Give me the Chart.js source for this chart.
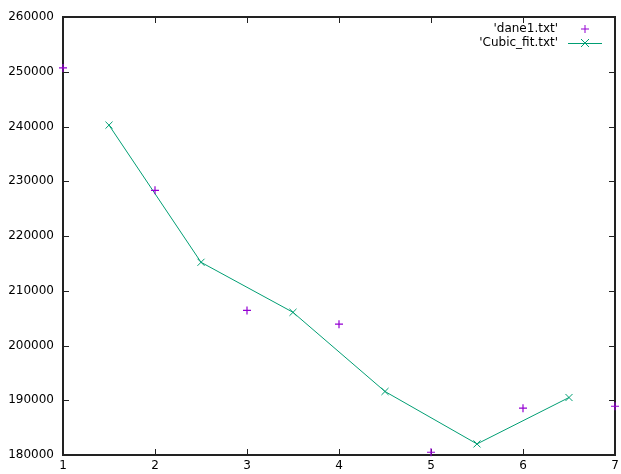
<!DOCTYPE html>
<html>
<head>
<meta charset="utf-8">
<script src="https://cdn.jsdelivr.net/npm/chart.js@4/dist/chart.umd.min.js"></script>
<style>
  body { margin: 0; background: #fff; }
  #wrap { width: 621px; height: 474px; }
</style>
</head>
<body>
<div id="wrap"><canvas id="fitChart" width="621" height="474"></canvas></div>
<script>
// data
const daneX = [1, 2, 3, 4, 5, 6, 7];
const daneY = [250700, 228350, 206400, 203900, 180500, 188550, 188900];
const fitX = [1.5, 2.5, 3.5, 4.5, 5.5, 6.5];
const fitY = [240250, 215200, 206060, 191600, 182020, 190500];
const xTicks = [1, 2, 3, 4, 5, 6, 7];
const yTicks = [180000, 190000, 200000, 210000, 220000, 230000, 240000, 250000, 260000];

const FONT = "DejaVu Sans";
const AXIS = "#222";

// gnuplot-like frame with inward ticks on all four sides, plus right aligned key
const gnuplotFrame = {
  id: "gnuplotFrame",
  beforeDatasetsDraw(chart) {
    const { ctx, chartArea: a, scales } = chart;
    ctx.save();
    ctx.strokeStyle = AXIS;
    ctx.lineWidth = 1;
    ctx.beginPath();
    xTicks.forEach((v) => {
      const x = Math.round(scales.x.getPixelForValue(v)) + 0.5;
      ctx.moveTo(x, a.bottom); ctx.lineTo(x, a.bottom - 6);
      ctx.moveTo(x, a.top); ctx.lineTo(x, a.top + 6);
    });
    yTicks.forEach((v) => {
      const y = Math.round(scales.y.getPixelForValue(v)) + 0.5;
      ctx.moveTo(a.left, y); ctx.lineTo(a.left + 6, y);
      ctx.moveTo(a.right, y); ctx.lineTo(a.right - 6, y);
    });
    ctx.stroke();
    ctx.lineWidth = 2;
    ctx.strokeRect(a.left, a.top, a.right - a.left, a.bottom - a.top);
    ctx.restore();
  },
  afterDraw(chart) {
    const { ctx } = chart;
    ctx.save();
    // key
    ctx.font = "12px '" + FONT + "'";
    ctx.fillStyle = "#000";
    ctx.textAlign = "right";
    ctx.textBaseline = "middle";
    const rows = [29, 43];
    chart.data.datasets.forEach((ds, i) => {
      const y = rows[i];
      ctx.fillText(ds.label, 558, y);
      ctx.strokeStyle = ds.borderColor;
      ctx.lineWidth = 1;
      ctx.beginPath();
      if (ds.showLine) {
        ctx.moveTo(568, y + 0.5); ctx.lineTo(602, y + 0.5);
      }
      const cx = 585, r = 4;
      if (ds.pointStyle === "cross") {
        ctx.moveTo(cx - r, y); ctx.lineTo(cx + r, y);
        ctx.moveTo(cx, y - r); ctx.lineTo(cx, y + r);
      } else {
        ctx.moveTo(cx - r, y - r); ctx.lineTo(cx + r, y + r);
        ctx.moveTo(cx - r, y + r); ctx.lineTo(cx + r, y - r);
      }
      ctx.stroke();
    });
    ctx.restore();
  },
};

const ctx = document.getElementById("fitChart").getContext("2d");
new Chart(ctx, {
  type: "scatter",
  data: {
    datasets: [
      {
        label: "'dane1.txt'",
        data: daneX.map((x, i) => ({ x: x, y: daneY[i] })),
        showLine: false,
        clip: false,
        pointStyle: "cross",
        pointRadius: 4,
        borderColor: "#9400d3",
        backgroundColor: "#9400d3",
        pointBorderWidth: 1.2,
      },
      {
        label: "'Cubic_fit.txt'",
        data: fitX.map((x, i) => ({ x: x, y: fitY[i] })),
        showLine: true,
        clip: false,
        pointStyle: "crossRot",
        pointRadius: 5,
        borderColor: "#009e73",
        backgroundColor: "#009e73",
        borderWidth: 1,
        pointBorderWidth: 1,
      },
    ],
  },
  options: {
    responsive: false,
    animation: false,
    layout: { padding: { top: 17, right: 6, left: 0, bottom: 0 } },
    plugins: {
      legend: { display: false },
      tooltip: { enabled: false },
    },
    scales: {
      x: {
        type: "linear",
        min: 1,
        max: 7,
        afterBuildTicks: (axis) => { axis.ticks = xTicks.map((v) => ({ value: v })); },
        afterFit: (axis) => {
          axis.height = 19;
          axis.paddingLeft = 0;
          axis.paddingRight = 0;
        },
        grid: { display: false, drawTicks: false },
        border: { display: false },
        ticks: { color: "#000", padding: 4, font: { family: FONT, size: 12 }, callback: (v) => String(v) },
      },
      y: {
        min: 180000,
        max: 260000,
        afterBuildTicks: (axis) => { axis.ticks = yTicks.map((v) => ({ value: v })); },
        afterFit: (axis) => {
          axis.width = 63;
          axis.paddingTop = 0;
          axis.paddingBottom = 0;
        },
        grid: { display: false, drawTicks: false },
        border: { display: false },
        ticks: { color: "#000", padding: 9, font: { family: FONT, size: 12 }, callback: (v) => String(v) },
      },
    },
  },
  plugins: [gnuplotFrame],
});
</script>
</body>
</html>
